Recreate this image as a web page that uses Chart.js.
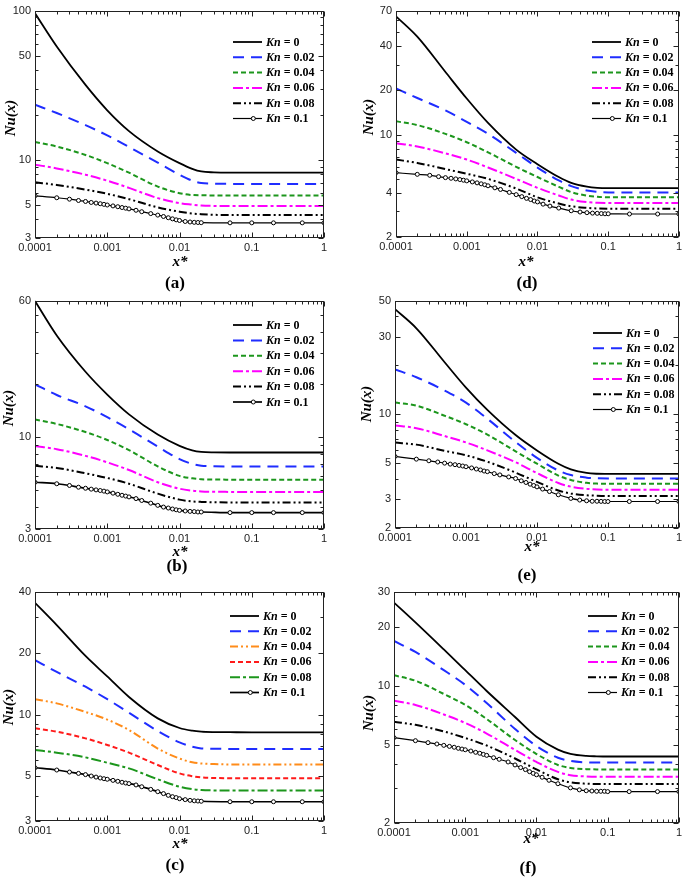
<!DOCTYPE html>
<html>
<head>
<meta charset="utf-8">
<script src="https://cdn.jsdelivr.net/npm/chart.js@4.4.1/dist/chart.umd.min.js"></script>
<style>
  html, body { margin: 0; padding: 0; background: #fff; }
  #page { position: relative; width: 685px; height: 879px; overflow: hidden; }
  canvas { position: absolute; }
</style>
</head>
<body>
<div id="page">
  <canvas id="panel-a" width="340" height="300" style="left:0;top:0"></canvas>
  <canvas id="panel-b" width="340" height="300" style="left:0;top:290px"></canvas>
  <canvas id="panel-c" width="340" height="299" style="left:0;top:580px"></canvas>
  <canvas id="panel-d" width="345" height="300" style="left:340px;top:0"></canvas>
  <canvas id="panel-e" width="345" height="300" style="left:340px;top:290px"></canvas>
  <canvas id="panel-f" width="345" height="299" style="left:340px;top:580px"></canvas>
</div>
<script>
// ===== Data =====

const knLabels = ["0", "0.02", "0.04", "0.06", "0.08", "0.1"];
const xTicks = [0.0001, 0.001, 0.01, 0.1, 1];
const xTickLabels = ["0.0001", "0.001", "0.01", "0.1", "1"];

// x positions of the plain curves
const xLineA = [0.0001, 0.0002, 0.0005, 0.001, 0.002, 0.005, 0.01, 0.015, 0.02, 0.03, 0.05, 0.1, 1];
const xLineD = [0.0001, 0.0002, 0.0005, 0.001, 0.002, 0.005, 0.01, 0.02, 0.03, 0.05, 0.07, 0.1, 1];

// x positions of the circle markers (Kn = 0.1)
const xMarkA = [0.0001, 0.0002, 0.0003, 0.0004, 0.0005, 0.0006, 0.0007, 0.0008, 0.0009,
  0.001, 0.0012, 0.0014, 0.0016, 0.0018, 0.002, 0.0025, 0.003, 0.004, 0.005, 0.006, 0.007, 0.008, 0.009,
  0.01, 0.012, 0.014, 0.016, 0.018, 0.02, 0.05, 0.1, 0.2, 0.5, 1];
const xMarkD = [0.0001, 0.0002, 0.0003, 0.0004, 0.0005, 0.0006, 0.0007, 0.0008, 0.0009,
  0.001, 0.0012, 0.0014, 0.0016, 0.0018, 0.002, 0.0025, 0.003, 0.004, 0.005, 0.006, 0.007, 0.008, 0.009,
  0.01, 0.012, 0.015, 0.02, 0.03, 0.04, 0.05, 0.06, 0.07, 0.08, 0.09, 0.1, 0.2, 0.5, 1];

// y tick labels
const yTicksA = [3, 5, 10, 50, 100];
const yTicksB = [3, 10, 60];
const yTicksC = [3, 5, 10, 20, 40];
const yTicksD = [2, 4, 10, 20, 40, 70];
const yTicksE = [2, 3, 5, 10, 30, 50];
const yTicksF = [2, 5, 10, 20, 30];

// (a)
const a0 = [96, 57.5, 31.8, 21.5, 15.6, 11.4, 9.52, 8.72, 8.37, 8.26, 8.23, 8.23, 8.23];
const a2 = [23.4, 20.6, 17.1, 14.6, 12.2, 9.6, 7.96, 7.27, 7.01, 6.94, 6.91, 6.91, 6.91];
const a4 = [13.2, 12.3, 10.8, 9.52, 8.21, 6.63, 5.99, 5.82, 5.8, 5.78, 5.77, 5.77, 5.77];
const a6 = [9.3, 8.77, 7.96, 7.26, 6.5, 5.55, 5.14, 5.02, 4.95, 4.92, 4.91, 4.91, 4.91];
const a8 = [7.08, 6.8, 6.33, 5.93, 5.46, 4.81, 4.5, 4.38, 4.33, 4.29, 4.28, 4.28, 4.28];
const a10 = [5.75, 5.58, 5.46, 5.35, 5.27, 5.19, 5.14, 5.09, 5.04,
  4.99, 4.92, 4.86, 4.8, 4.75, 4.7, 4.6, 4.5, 4.37, 4.27, 4.18, 4.1, 4.03, 3.97,
  3.93, 3.87, 3.84, 3.82, 3.81, 3.8, 3.79, 3.79, 3.79, 3.79, 3.79];

// (b)
const b0 = [59.7, 38.0, 23.6, 17.5, 13.5, 10.35, 8.92, 8.41, 8.24, 8.19, 8.18, 8.18, 8.18];
const b2 = [20.0, 17.4, 15.0, 13.0, 11.1, 8.84, 7.5, 7.04, 6.88, 6.83, 6.81, 6.8, 6.8];
const b4 = [12.6, 11.9, 10.7, 9.64, 8.44, 6.82, 6.02, 5.83, 5.76, 5.74, 5.73, 5.72, 5.72];
const b6 = [8.9, 8.55, 7.83, 7.19, 6.5, 5.54, 5.09, 4.96, 4.91, 4.89, 4.88, 4.87, 4.87];
const b8 = [6.88, 6.68, 6.23, 5.86, 5.43, 4.77, 4.41, 4.31, 4.28, 4.26, 4.25, 4.24, 4.24];
const b10 = [5.54, 5.43, 5.31, 5.19, 5.12, 5.06, 5.01, 4.97, 4.93,
  4.88, 4.8, 4.73, 4.67, 4.62, 4.57, 4.47, 4.36, 4.21, 4.09, 4.0, 3.95, 3.9, 3.86,
  3.83, 3.8, 3.78, 3.77, 3.75, 3.75, 3.72, 3.72, 3.72, 3.72, 3.72];

// (c)
const c0 = [35.4, 27.5, 19.4, 15.4, 12.2, 9.58, 8.59, 8.33, 8.24, 8.2, 8.19, 8.18, 8.18];
const c2 = [18.5, 16.2, 13.7, 11.9, 10.2, 8.3, 7.3, 6.95, 6.82, 6.79, 6.78, 6.77, 6.77];
const c4 = [11.9, 11.35, 10.3, 9.45, 8.4, 6.81, 6.08, 5.83, 5.75, 5.71, 5.69, 5.69, 5.69];
const c6 = [8.56, 8.24, 7.64, 7.09, 6.5, 5.65, 5.14, 4.98, 4.91, 4.88, 4.87, 4.86, 4.86];
const c8 = [6.7, 6.5, 6.16, 5.8, 5.44, 4.81, 4.42, 4.3, 4.26, 4.24, 4.23, 4.23, 4.23];
const c10 = [5.48, 5.34, 5.22, 5.14, 5.07, 4.99, 4.93, 4.88, 4.84,
  4.81, 4.75, 4.7, 4.65, 4.61, 4.58, 4.51, 4.42, 4.29, 4.18, 4.09, 4.01, 3.95, 3.91,
  3.86, 3.82, 3.79, 3.77, 3.76, 3.75, 3.73, 3.73, 3.73, 3.73, 3.73];

// (d)
const d0 = [64, 46.5, 26.7, 17.6, 12.0, 7.89, 6.28, 5.13, 4.68, 4.41, 4.33, 4.31, 4.31];
const d2 = [20.6, 17.75, 14.6, 12.2, 10.1, 7.5, 5.95, 4.86, 4.45, 4.15, 4.07, 4.03, 4.03];
const d4 = [12.3, 11.6, 10.1, 8.86, 7.56, 6.02, 5.13, 4.4, 4.05, 3.83, 3.76, 3.73, 3.73];
const d6 = [8.72, 8.29, 7.44, 6.75, 5.96, 4.98, 4.33, 3.84, 3.6, 3.46, 3.42, 3.41, 3.41];
const d8 = [6.75, 6.4, 5.81, 5.4, 4.98, 4.28, 3.73, 3.38, 3.24, 3.16, 3.13, 3.12, 3.12];
const d10 = [5.49, 5.35, 5.27, 5.16, 5.08, 5.03, 4.98, 4.93, 4.88,
  4.83, 4.75, 4.68, 4.61, 4.54, 4.47, 4.33, 4.22, 4.03, 3.89, 3.77, 3.67, 3.6, 3.52,
  3.47, 3.35, 3.25, 3.15, 3.02, 2.96, 2.93, 2.91, 2.9, 2.89, 2.88, 2.88, 2.87, 2.87, 2.87];

// (e)
const e0 = [44.3, 33.8, 20.9, 14.6, 10.65, 7.46, 6.0, 4.97, 4.59, 4.36, 4.31, 4.3, 4.3];
const e2 = [18.9, 16.9, 14.0, 11.8, 9.39, 6.76, 5.4, 4.51, 4.23, 4.08, 4.04, 4.03, 4.03];
const e4 = [11.8, 11.3, 9.8, 8.69, 7.51, 5.92, 4.97, 4.2, 3.95, 3.79, 3.75, 3.74, 3.74];
const e6 = [8.54, 8.22, 7.35, 6.71, 6.0, 5.07, 4.35, 3.78, 3.59, 3.48, 3.45, 3.44, 3.44];
const e8 = [6.7, 6.51, 5.96, 5.6, 5.11, 4.38, 3.84, 3.4, 3.26, 3.18, 3.16, 3.15, 3.15];
const e10 = [5.51, 5.3, 5.18, 5.09, 5.01, 4.94, 4.9, 4.85, 4.81,
  4.76, 4.68, 4.61, 4.55, 4.48, 4.44, 4.32, 4.24, 4.12, 4.03, 3.9, 3.81, 3.72, 3.65,
  3.58, 3.47, 3.35, 3.2, 3.04, 2.97, 2.94, 2.92, 2.92, 2.915, 2.91, 2.91, 2.91, 2.91, 2.91];

// (f)
const f0 = [26.5, 21.0, 15.3, 12.0, 9.4, 6.93, 5.5, 4.73, 4.5, 4.39, 4.37, 4.36, 4.36];
const f2 = [16.9, 14.85, 12.0, 10.1, 8.17, 6.02, 4.93, 4.3, 4.14, 4.07, 4.06, 4.06, 4.06];
const f4 = [11.3, 10.6, 9.08, 7.98, 6.77, 5.29, 4.49, 3.95, 3.81, 3.76, 3.75, 3.75, 3.75];
const f6 = [8.39, 7.98, 7.14, 6.46, 5.71, 4.71, 4.09, 3.64, 3.5, 3.45, 3.44, 3.44, 3.44];
const f8 = [6.56, 6.32, 5.85, 5.42, 4.96, 4.26, 3.75, 3.34, 3.22, 3.17, 3.16, 3.16, 3.16];
const f10 = [5.44, 5.25, 5.13, 5.05, 4.97, 4.91, 4.86, 4.8, 4.76,
  4.72, 4.65, 4.58, 4.53, 4.47, 4.42, 4.3, 4.22, 4.09, 3.95, 3.83, 3.74, 3.65, 3.58,
  3.52, 3.42, 3.3, 3.17, 3.02, 2.95, 2.92, 2.91, 2.9, 2.9, 2.9, 2.89, 2.89, 2.89, 2.89];

// ===== Line styles =====

const styleStd = [
  { color: "#000000", dash: [], width: 1.8 },
  { color: "#1f2dff", dash: [11, 7], width: 2 },
  { color: "#1c961c", dash: [5, 3], width: 2 },
  { color: "#ff00ff", dash: [10, 3, 3, 3], width: 2 },
  { color: "#000000", dash: [8, 3, 2, 3, 2, 3], width: 2 },
  { color: "#000000", dash: [], width: 1.2, marker: true },
];
const styleB = styleStd.slice(0, 5).concat([{ color: "#000000", dash: [], width: 1.7, marker: true }]);
const styleC = [
  { color: "#000000", dash: [], width: 1.8 },
  { color: "#1f2dff", dash: [11, 7], width: 2 },
  { color: "#ff8c1a", dash: [8, 3, 2, 3, 2, 3], width: 2 },
  { color: "#ff1a1a", dash: [5, 3], width: 2 },
  { color: "#1c961c", dash: [10, 3, 3, 3], width: 2 },
  { color: "#000000", dash: [], width: 1.7, marker: true },
];

const SERIF = '"Liberation Serif", "Times New Roman", serif';
const SANS = '"Liberation Sans", Arial, sans-serif';

// ===== Decoration plugin: frame, inward ticks, titles, legend =====

const decorPlugin = {
  id: "decor",
  afterDraw(chart, args, opts) {
    const { ctx, chartArea: area } = chart;
    const xs = chart.scales.x;
    const ys = chart.scales.y;
    const L = Math.round(area.left) + 0.5, R = Math.round(area.right) - 0.5;
    const T = Math.round(area.top) + 0.5, B = Math.round(area.bottom) - 0.5;
    ctx.save();
    ctx.strokeStyle = "#222";
    ctx.lineWidth = 1;
    ctx.setLineDash([]);
    ctx.strokeRect(L, T, R - L, B - T);

    // x ticks (top and bottom, inward)
    ctx.beginPath();
    for (let d = -4; d <= 0; d++) {
      for (let k = 1; k <= 9; k++) {
        const v = k * Math.pow(10, d);
        if (v > 1.0000001) break;
        const p = Math.round(xs.getPixelForValue(v)) + 0.5;
        const len = k === 1 ? 5 : 3;
        ctx.moveTo(p, B); ctx.lineTo(p, B - len);
        ctx.moveTo(p, T); ctx.lineTo(p, T + len);
      }
    }
    // y ticks (left and right, inward)
    const lo = Math.floor(Math.log10(opts.yMin));
    const hi = Math.ceil(Math.log10(opts.yMax));
    for (let d = lo; d <= hi; d++) {
      for (let k = 1; k <= 9; k++) {
        const v = k * Math.pow(10, d);
        if (v < opts.yMin - 1e-9 || v > opts.yMax + 1e-9) continue;
        const p = Math.round(ys.getPixelForValue(v)) + 0.5;
        const len = opts.yTicks.includes(v) ? 5 : 3;
        ctx.moveTo(L, p); ctx.lineTo(L + len, p);
        ctx.moveTo(R, p); ctx.lineTo(R - len, p);
      }
    }
    ctx.stroke();

    // axis titles and panel letter
    ctx.fillStyle = "#000";
    ctx.textAlign = "center";
    ctx.textBaseline = "alphabetic";
    ctx.font = `italic bold 15px ${SERIF}`;
    ctx.fillText("x*", opts.titleX, opts.xTitleY);
    ctx.font = `bold 17px ${SERIF}`;
    ctx.fillText("(" + opts.letter + ")", opts.letterX, opts.letterY);
    ctx.save();
    ctx.translate(opts.yTitleX, opts.yTitleY);
    ctx.rotate(-Math.PI / 2);
    ctx.textBaseline = "middle";
    ctx.font = `italic bold 15px ${SERIF}`;
    ctx.fillText("Nu(x)", 0, 0);
    ctx.restore();

    // legend
    const lg = opts.legend;
    chart.data.datasets.forEach((ds, i) => {
      const y = lg.y + i * lg.dy;
      ctx.save();
      ctx.strokeStyle = ds.borderColor;
      ctx.lineWidth = ds.borderWidth;
      ctx.setLineDash(ds.borderDash || []);
      ctx.beginPath();
      ctx.moveTo(lg.x, y);
      ctx.lineTo(lg.x + lg.len, y);
      ctx.stroke();
      if (ds.pointRadius > 0) {
        ctx.setLineDash([]);
        ctx.lineWidth = 1;
        ctx.fillStyle = "#fff";
        ctx.beginPath();
        ctx.arc(lg.x + lg.len * 0.7, y, 2, 0, Math.PI * 2);
        ctx.fill();
        ctx.stroke();
      }
      ctx.restore();
      ctx.textAlign = "left";
      ctx.textBaseline = "middle";
      ctx.font = `italic bold 12px ${SERIF}`;
      const tx = lg.x + lg.len + 4;
      ctx.fillText("Kn", tx, y + 0.5);
      const w = ctx.measureText("Kn").width;
      ctx.font = `bold 12px ${SERIF}`;
      ctx.fillText(" = " + knLabels[i], tx + w, y + 0.5);
    });
    ctx.restore();
  },
};

// ===== Panel builder =====

function buildDatasets(xLine, xMark, series, marks, styles) {
  const sets = series.map((vals, i) => ({
    label: "Kn = " + knLabels[i],
    data: xLine.map((x, j) => ({ x: x, y: vals[j] })),
    borderColor: styles[i].color,
    borderWidth: styles[i].width,
    borderDash: styles[i].dash,
    pointRadius: 0,
    cubicInterpolationMode: "monotone",
    fill: false,
  }));
  const ms = styles[5];
  sets.push({
    label: "Kn = " + knLabels[5],
    data: xMark.map((x, j) => ({ x: x, y: marks[j] })),
    borderColor: ms.color,
    borderWidth: ms.width,
    borderDash: ms.dash,
    pointRadius: 2,
    pointBorderWidth: 1,
    pointBackgroundColor: "#ffffff",
    pointBorderColor: "#000000",
    cubicInterpolationMode: "monotone",
    fill: false,
  });
  return sets;
}

function makePanel(p) {
  const ctx = document.getElementById(p.id);
  return new Chart(ctx, {
    type: "line",
    data: { datasets: buildDatasets(p.xLine, p.xMark, p.series, p.marks, p.styles) },
    options: {
      responsive: false,
      animation: false,
      events: [],
      layout: { padding: p.pad },
      plugins: {
        legend: { display: false },
        tooltip: { enabled: false },
        decor: {
          yMin: p.yMin, yMax: p.yMax, yTicks: p.yTicks, letter: p.letter,
          titleX: p.titleX, xTitleY: p.xTitleY, letterX: p.letterX, letterY: p.letterY,
          yTitleX: p.yTitleX, yTitleY: p.yTitleY, legend: p.legend,
        },
      },
      scales: {
        x: {
          type: "logarithmic",
          min: 0.0001,
          max: 1,
          afterBuildTicks: (s) => { s.ticks = xTicks.map((v) => ({ value: v })); },
          afterFit: (s) => { s.height = 20; },
          grid: { display: false, drawTicks: false },
          border: { display: false },
          ticks: {
            autoSkip: false,
            maxRotation: 0,
            padding: 3,
            color: "#222",
            font: { family: SANS, size: 11 },
            callback: (v) => xTickLabels[xTicks.indexOf(v)],
          },
        },
        y: {
          type: "logarithmic",
          min: p.yMin,
          max: p.yMax,
          afterBuildTicks: (s) => { s.ticks = p.yTicks.map((v) => ({ value: v })); },
          afterFit: (s) => { s.width = p.yWidth; },
          grid: { display: false, drawTicks: false },
          border: { display: false },
          ticks: {
            autoSkip: false,
            padding: 4,
            color: "#222",
            font: { family: SANS, size: 11 },
            callback: (v) => String(v),
          },
        },
      },
    },
    plugins: [decorPlugin],
  });
}

const panels = [
  { id: "panel-a", letter: "a", xLine: xLineA, xMark: xMarkA, series: [a0, a2, a4, a6, a8], marks: a10,
    styles: styleStd, yMin: 3, yMax: 100, yTicks: yTicksA, yWidth: 35,
    pad: { left: 0, top: 8, right: 16, bottom: 42 },
    titleX: 180, xTitleY: 266, letterX: 175, letterY: 288, yTitleX: 11, yTitleY: 118,
    legend: { x: 233, y: 42, dy: 15.3, len: 29 } },
  { id: "panel-b", letter: "b", xLine: xLineA, xMark: xMarkA, series: [b0, b2, b4, b6, b8], marks: b10,
    styles: styleB, yMin: 3, yMax: 60, yTicks: yTicksB, yWidth: 35,
    pad: { left: 0, top: 8, right: 16, bottom: 41 },
    titleX: 180, xTitleY: 266, letterX: 177, letterY: 281, yTitleX: 9, yTitleY: 118,
    legend: { x: 233, y: 35, dy: 15.4, len: 29 } },
  { id: "panel-c", letter: "c", xLine: xLineA, xMark: xMarkA, series: [c0, c2, c4, c6, c8], marks: c10,
    styles: styleC, yMin: 3, yMax: 40, yTicks: yTicksC, yWidth: 35,
    pad: { left: 0, top: 12, right: 16, bottom: 38 },
    titleX: 180, xTitleY: 268, letterX: 175, letterY: 290, yTitleX: 9, yTitleY: 127,
    legend: { x: 230, y: 36, dy: 15.3, len: 29 } },
  { id: "panel-d", letter: "d", xLine: xLineD, xMark: xMarkD, series: [d0, d2, d4, d6, d8], marks: d10,
    styles: styleStd, yMin: 2, yMax: 70, yTicks: yTicksD, yWidth: 56,
    pad: { left: 0, top: 7, right: 3, bottom: 43 },
    titleX: 186, xTitleY: 266, letterX: 187, letterY: 288, yTitleX: 29, yTitleY: 117,
    legend: { x: 252, y: 42, dy: 15.3, len: 29 } },
  { id: "panel-e", letter: "e", xLine: xLineD, xMark: xMarkD, series: [e0, e2, e4, e6, e8], marks: e10,
    styles: styleStd, yMin: 2, yMax: 50, yTicks: yTicksE, yWidth: 55,
    pad: { left: 0, top: 8, right: 3, bottom: 42 },
    titleX: 192, xTitleY: 261, letterX: 187, letterY: 290, yTitleX: 27, yTitleY: 114,
    legend: { x: 253, y: 43, dy: 15.3, len: 29 } },
  { id: "panel-f", letter: "f", xLine: xLineD, xMark: xMarkD, series: [f0, f2, f4, f6, f8], marks: f10,
    styles: styleStd, yMin: 2, yMax: 30, yTicks: yTicksF, yWidth: 54,
    pad: { left: 0, top: 12, right: 3, bottom: 36 },
    titleX: 191, xTitleY: 263, letterX: 188, letterY: 293, yTitleX: 29, yTitleY: 133,
    legend: { x: 248, y: 36, dy: 15.3, len: 29 } },
];

panels.forEach(makePanel);
</script>
</body>
</html>
